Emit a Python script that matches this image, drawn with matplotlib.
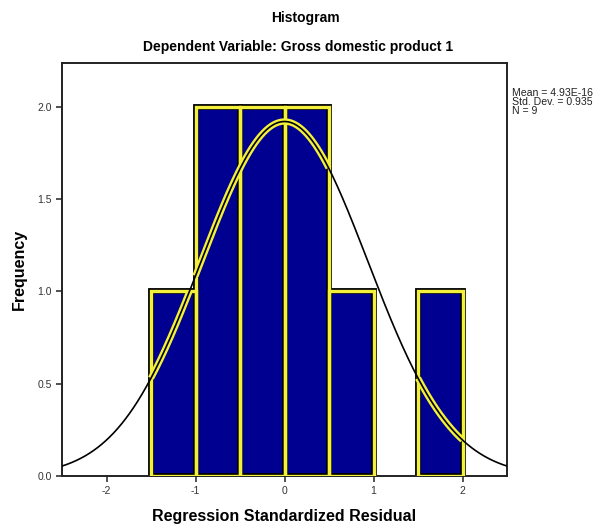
import numpy as np
import matplotlib
matplotlib.use("Agg")
import matplotlib.pyplot as plt

# Data
bin_edges = [-1.5, -1.0, -0.5, 0.0, 0.5, 1.0, 1.5, 2.0]
counts = [1, 2, 2, 2, 1, 0, 1]
mean_val = 4.93e-16
std_val = 0.935
n_val = 9
x_ticks = [-2, -1, 0, 1, 2]
x_ticklabels = ["-2", "-1", "0", "1", "2"]
y_ticks = [0.0, 0.5, 1.0, 1.5, 2.0]
y_ticklabels = ["0.0", "0.5", "1.0", "1.5", "2.0"]

plt.rcParams['font.family'] = ['Liberation Sans', 'DejaVu Sans']

fig = plt.figure(figsize=(6.10, 5.31), dpi=100)
ax = fig.add_axes([62/610, 1 - 476/531, (507 - 62)/610, (476 - 63)/531])

navy = "#000090"
yellow = "#f2f03c"

edges = np.array(bin_edges, dtype=float)
cnts = np.array(counts, dtype=float)
lefts = edges[:-1]
widths = np.diff(edges)
keep = cnts > 0
ax.bar(lefts[keep], cnts[keep], width=widths[keep], align="edge", color=navy,
       edgecolor="black", linewidth=4.2, zorder=2)
ax.bar(lefts[keep], cnts[keep], width=widths[keep], align="edge", color="none",
       edgecolor=yellow, linewidth=2.4, zorder=3)

# Normal curve
binw = widths[0]
xs = np.linspace(-2.5, 2.5, 1001)
ys = n_val * binw / (std_val * np.sqrt(2 * np.pi)) * np.exp(-0.5 * ((xs - mean_val) / std_val) ** 2)
idx = np.clip(np.searchsorted(edges, xs, side="right") - 1, 0, len(cnts) - 1)
inside = (xs >= edges[0]) & (xs <= edges[-1]) & (ys <= cnts[idx])
ys_in = np.where(inside, ys, np.nan)
ax.plot(xs, ys_in, color=yellow, linewidth=4.6, zorder=6, solid_capstyle="butt")
ax.plot(xs, ys, color="black", linewidth=1.2, zorder=7)

ax.set_xlim(-2.5, 2.5)
ax.set_ylim(0, 2.237)
ax.set_xticks(x_ticks)
ax.set_xticklabels(x_ticklabels)
ax.set_yticks(y_ticks)
ax.set_yticklabels(y_ticklabels)
ax.tick_params(direction="out", length=4, width=1.2, labelsize=7.5, colors="#333333")
for s in ax.spines.values():
    s.set_linewidth(1.4)
    s.set_color("#222222")

ax.set_xlabel("Regression Standardized Residual", fontsize=11.5, fontweight="bold", labelpad=9)
ax.set_ylabel("Frequency", fontsize=11.5, fontweight="bold", labelpad=7)

fig.text(305/610, 1 - 18/531, "Histogram", ha="center", va="center", fontsize=10, fontweight="bold")
fig.text(298/610, 1 - 47/531, "Dependent Variable: Gross domestic product 1", ha="center", va="center",
         fontsize=10, fontweight="bold")

stats = f"Mean = {4.93:.2f}E-16\nStd. Dev. = {std_val:.3f}\nN = {n_val}"
fig.text(512/610, 1 - 88/531, stats, ha="left", va="top", fontsize=7.6, linespacing=0.85, color="#222222")

fig.savefig("out.png", dpi=100)
